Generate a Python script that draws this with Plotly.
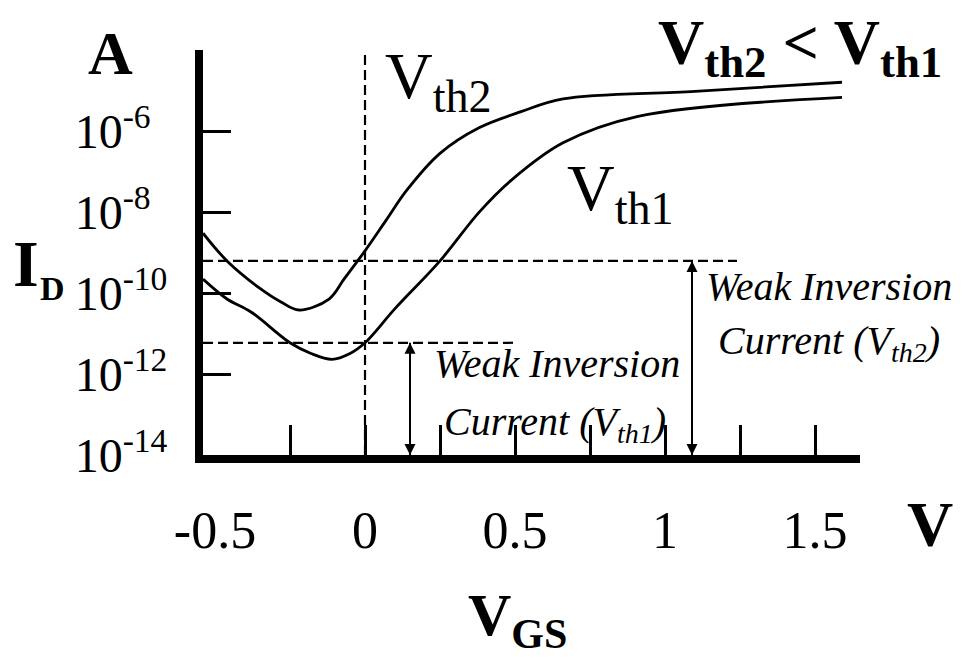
import math
import plotly.graph_objects as go

# Drain current I_D (A) versus gate-source voltage V_GS (V) for two threshold voltages
vgs_vth2 = [-0.54, -0.46, -0.35, -0.28, -0.22, -0.12, -0.07, 0.0, 0.07, 0.14, 0.25, 0.38, 0.52, 0.66, 1.1, 1.59]
id_vth2 = [3.0e-9, 6.2e-10, 1.3e-10, 6.0e-11, 3.8e-11, 7.1e-11, 2.2e-10, 1.1e-9, 6.2e-9, 3.5e-8,
           2.8e-7, 1.2e-6, 3.0e-6, 6.2e-6, 9.5e-6, 1.6e-5]

vgs_vth1 = [-0.54, -0.46, -0.38, -0.25, -0.18, -0.11, -0.05, 0.0, 0.1, 0.25, 0.38, 0.49, 0.66, 0.91, 1.59]
id_vth1 = [2.2e-10, 7.1e-11, 3.4e-11, 5.9e-12, 3.2e-12, 2.3e-12, 3.2e-12, 5.9e-12, 4.1e-11, 6.2e-10,
           9.8e-9, 6.3e-8, 5.1e-7, 2.3e-6, 6.8e-6]

# Weak inversion current levels and where their guide lines / arrows end
i_weak_vth2 = 6.2e-10
i_weak_vth1 = 5.9e-12
guide_end_vth2 = 1.24
guide_end_vth1 = 0.5
arrow_v_vth1 = 0.15
arrow_v_vth2 = 1.09

# Axes
x_range = [-0.54, 1.65]
y_range_decades = [-14, -4]
i_floor = 1e-14
i_ceiling = 1e-4
x_tick_marks = [-0.25, 0, 0.25, 0.5, 0.75, 1.0, 1.25, 1.5]
x_label_vals = [-0.5, 0, 0.5, 1, 1.5]
x_label_text = ["-0.5", "0", "0.5", "1", "1.5"]
y_tick_vals = [1e-14, 1e-12, 1e-10, 1e-8, 1e-6]
# one-digit exponents get trailing padding so the labels line up on the left
y_tick_text = ["10<sup>-14</sup>", "10<sup>-12</sup>", "10<sup>-10</sup>",
               "10<sup>-8&nbsp;&nbsp;</sup>", "10<sup>-6&nbsp;&nbsp;</sup>"]

SERIF = "Liberation Serif"
BLACK = "black"

fig = go.Figure()

# Transfer characteristics
for vx, iy in ((vgs_vth2, id_vth2), (vgs_vth1, id_vth1)):
    fig.add_trace(go.Scatter(x=vx, y=iy, mode="lines",
                             line=dict(color=BLACK, width=2.8, shape="spline", smoothing=1.0),
                             showlegend=False, hoverinfo="skip"))

# Dashed guides: V_GS = 0 and the two weak inversion levels
dash = dict(color=BLACK, width=2.2, dash="10px,5px")
fig.add_trace(go.Scatter(x=[0, 0], y=[i_floor, i_ceiling], mode="lines", line=dash,
                         showlegend=False, hoverinfo="skip"))
fig.add_trace(go.Scatter(x=[x_range[0], guide_end_vth2], y=[i_weak_vth2, i_weak_vth2], mode="lines",
                         line=dash, showlegend=False, hoverinfo="skip"))
fig.add_trace(go.Scatter(x=[x_range[0], guide_end_vth1], y=[i_weak_vth1, i_weak_vth1], mode="lines",
                         line=dash, showlegend=False, hoverinfo="skip"))

# Double-headed arrows spanning each weak inversion current
for av, top in ((arrow_v_vth1, i_weak_vth1), (arrow_v_vth2, i_weak_vth2)):
    fig.add_trace(go.Scatter(x=[av, av], y=[top, i_floor], mode="lines+markers",
                             line=dict(color=BLACK, width=2),
                             marker=dict(symbol=["arrow-up", "arrow-down"], size=11, color=BLACK),
                             cliponaxis=False, showlegend=False, hoverinfo="skip"))

# Carrier trace for the labelled overlay x axis
fig.add_trace(go.Scatter(x=[], y=[], xaxis="x2", yaxis="y", showlegend=False))

# Pixel helpers for free text placement
L, R, T, B = 203, 116, 50, 206
W, H = 976, 661
PW, PH = W - L - R, H - T - B


def px(x):
    return (x - L) / PW


def py(y):
    return (H - B - y) / PH


def text(s, x, y, size, xanchor="center", yanchor="middle"):
    return dict(text=s, x=px(x), y=py(y), xref="paper", yref="paper", showarrow=False,
                xanchor=xanchor, yanchor=yanchor, font=dict(family=SERIF, size=size, color=BLACK))


annotations = [
    text("<b>A</b>", 110, 53, 62),
    text("<b>I</b>", 26, 263, 66),
    text("<b>D</b>", 52, 288, 34),
    text("V<sub>th2</sub>", 383, 80, 66, xanchor="left"),
    text("V<sub>th1</sub>", 565, 192, 66, xanchor="left"),
    text("<b>V<sub>th2</sub> &lt; V<sub>th1</sub></b>", 656, 47, 64, xanchor="left"),
    text("<b>V</b>", 930, 524, 64),
    text("<b>V<sub>GS</sub></b>", 466, 619, 60, xanchor="left"),
    text("<i>Weak Inversion</i>", 557, 363, 40),
    text("<i>Current (V<sub>th1</sub>)</i>", 555, 424, 40),
    text("<i>Weak Inversion</i>", 704, 286, 40, xanchor="left"),
    text("<i>Current (V<sub>th2</sub>)</i>", 716, 343, 40, xanchor="left"),
]

fig.update_layout(
    width=W, height=H,
    margin=dict(l=L, r=R, t=T, b=B, pad=0),
    paper_bgcolor="white", plot_bgcolor="white",
    showlegend=False,
    xaxis=dict(range=x_range, showline=True, linewidth=8, linecolor=BLACK,
               ticks="inside", ticklen=30, tickwidth=3, tickcolor=BLACK,
               tickmode="array", tickvals=x_tick_marks, showticklabels=False,
               showgrid=False, zeroline=False, fixedrange=True),
    xaxis2=dict(range=x_range, overlaying="x", anchor="y", side="bottom",
                tickmode="array", tickvals=x_label_vals, ticktext=x_label_text,
                ticks="", showline=False, showgrid=False, zeroline=False,
                tickfont=dict(family=SERIF, size=52, color=BLACK),
                ticklabelstandoff=40, fixedrange=True),
    yaxis=dict(type="log", range=y_range_decades, showline=True, linewidth=8, linecolor=BLACK,
               ticks="inside", ticklen=28, tickwidth=3, tickcolor=BLACK,
               tickmode="array", tickvals=y_tick_vals, ticktext=y_tick_text,
               tickfont=dict(family=SERIF, size=48, color=BLACK),
               ticklabelstandoff=18, showgrid=False, zeroline=False, fixedrange=True),
    annotations=annotations,
)

fig.write_html("out.html")
